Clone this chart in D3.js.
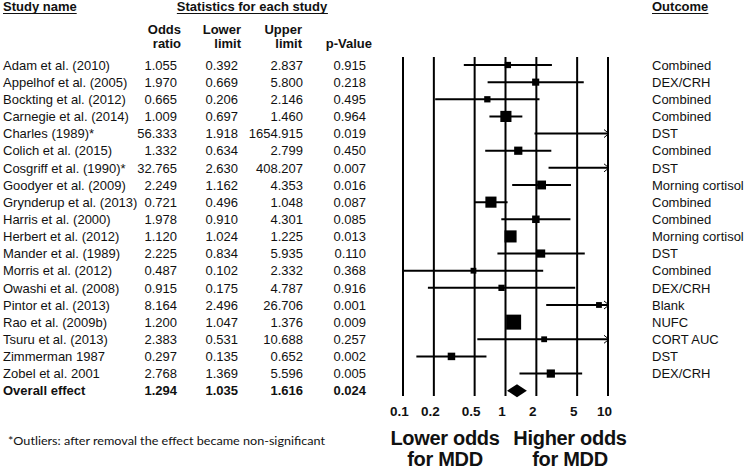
<!DOCTYPE html>
<html>
<head>
<meta charset="utf-8">
<script src="https://cdn.jsdelivr.net/npm/d3@7"></script>
<style>
  body { margin: 0; background: #fff; }
  svg text { font-family: "Liberation Sans", Arial, sans-serif; fill: #111; }
</style>
</head>
<body>
<div id="chart"></div>
<script>

// data
var studies = ["Adam et al. (2010)", "Appelhof et al. (2005)", "Bockting et al. (2012)", "Carnegie et al. (2014)",
    "Charles (1989)*", "Colich et al. (2015)", "Cosgriff et al. (1990)*", "Goodyer et al. (2009)",
    "Grynderup et al. (2013)", "Harris et al. (2000)", "Herbert et al. (2012)", "Mander et al. (1989)",
    "Morris et al. (2012)", "Owashi et al. (2008)", "Pintor et al. (2013)", "Rao et al. (2009b)",
    "Tsuru et al. (2013)", "Zimmerman 1987", "Zobel et al. 2001"];
var oddsRatio = [1.055, 1.970, 0.665, 1.009, 56.333, 1.332, 32.765, 2.249, 0.721, 1.978, 1.120, 2.225, 0.487, 0.915, 8.164, 1.200, 2.383, 0.297, 2.768];
var lowerLimit = [0.392, 0.669, 0.206, 0.697, 1.918, 0.634, 2.630, 1.162, 0.496, 0.910, 1.024, 0.834, 0.102, 0.175, 2.496, 1.047, 0.531, 0.135, 1.369];
var upperLimit = [2.837, 5.800, 2.146, 1.460, 1654.915, 2.799, 408.207, 4.353, 1.048, 4.301, 1.225, 5.935, 2.332, 4.787, 26.706, 1.376, 10.688, 0.652, 5.596];
var pValue = [0.915, 0.218, 0.495, 0.964, 0.019, 0.450, 0.007, 0.016, 0.087, 0.085, 0.013, 0.110, 0.368, 0.916, 0.001, 0.009, 0.257, 0.002, 0.005];
var outcome = ["Combined", "DEX/CRH", "Combined", "Combined", "DST", "Combined", "DST", "Morning cortisol",
    "Combined", "Combined", "Morning cortisol", "DST", "Combined", "DEX/CRH", "Blank", "NUFC", "CORT AUC", "DST", "DEX/CRH"];
// relative weights
var weight = [3.5, 4.5, 3.5, 11, 0.6, 6, 0.8, 7, 11, 5, 13, 6, 3, 3.5, 3, 20, 3, 5, 6];

var overall = {name: "Overall effect", or: 1.294, lo: 1.035, hi: 1.616, p: 0.024};
var tickValues = [0.1, 0.2, 0.5, 1, 2, 5, 10];

var rows = studies.map(function (s, i) {
    return {name: s, or: oddsRatio[i], lo: lowerLimit[i], hi: upperLimit[i], p: pValue[i], outcome: outcome[i], w: weight[i]};
});

const width = 749, height = 470;

const svg = d3.select("#chart")
    .append("svg")
    .attr("width", width)
    .attr("height", height);

var xScale = d3.scaleLog()
    .domain([0.1, 10])
    .range([403, 608]);

var yScale = d3.scalePoint()
    .domain(studies.concat([overall.name]))
    .range([65, 390.7]);

var sizeScale = d3.scaleSqrt()
    .domain([0, 20])
    .range([0, 15]);

var fmt = d3.format(".3f");

// columns: [x, anchor]
var cols = {name: 3, or: 177, lo: 238, hi: 303, p: 366, outcome: 652};

// headers
function underlined(x, y, txt, anchor) {
    var t = svg.append("text")
        .attr("x", x).attr("y", y)
        .attr("text-anchor", anchor || "start")
        .style("font-size", "13px")
        .style("font-weight", "bold")
        .text(txt);
    var bb = t.node().getBBox();
    svg.append("line")
        .attr("x1", bb.x).attr("x2", bb.x + bb.width)
        .attr("y1", y + 2.5).attr("y2", y + 2.5)
        .style("stroke", "#111").style("stroke-width", 1.2);
}
underlined(3, 11, "Study name");
underlined(252, 11, "Statistics for each study", "middle");
underlined(652, 11, "Outcome");

var subHeads = [
    {x: 181, l1: "Odds", l2: "ratio"},
    {x: 241, l1: "Lower", l2: "limit"},
    {x: 302, l1: "Upper", l2: "limit"},
    {x: 372, l1: "", l2: "p-Value"}
];
subHeads.forEach(function (h) {
    svg.append("text").attr("x", h.x).attr("y", 34).attr("text-anchor", "end")
        .style("font-size", "13px").style("font-weight", "bold").text(h.l1);
    svg.append("text").attr("x", h.x).attr("y", 48).attr("text-anchor", "end")
        .style("font-size", "13px").style("font-weight", "bold").text(h.l2);
});

// table rows
var allRows = rows.concat([overall]);
var tr = svg.selectAll("g.row")
    .data(allRows)
    .enter()
    .append("g")
    .attr("class", "row")
    .attr("transform", function (d) { return "translate(0," + yScale(d.name) + ")"; })
    .style("font-size", "13px")
    .style("font-weight", function (d) { return d === overall ? "bold" : "normal"; });

tr.append("text").attr("x", cols.name).attr("dy", "0.36em").text(function (d) { return d.name; });
tr.append("text").attr("x", cols.or).attr("dy", "0.36em").attr("text-anchor", "end").text(function (d) { return fmt(d.or); });
tr.append("text").attr("x", cols.lo).attr("dy", "0.36em").attr("text-anchor", "end").text(function (d) { return fmt(d.lo); });
tr.append("text").attr("x", cols.hi).attr("dy", "0.36em").attr("text-anchor", "end").text(function (d) { return fmt(d.hi); });
tr.append("text").attr("x", cols.p).attr("dy", "0.36em").attr("text-anchor", "end").text(function (d) { return fmt(d.p); });
tr.filter(function (d) { return d !== overall; })
    .append("text").attr("x", cols.outcome).attr("dy", "0.36em").text(function (d) { return d.outcome; });

// vertical reference lines
svg.selectAll("line.vline")
    .data(tickValues)
    .enter()
    .append("line")
    .attr("class", "vline")
    .attr("x1", function (d) { return xScale(d); })
    .attr("x2", function (d) { return xScale(d); })
    .attr("y1", 57)
    .attr("y2", 396)
    .style("stroke", "#000")
    .style("stroke-width", 2);

function clampX(v) {
    return xScale(Math.max(0.1, Math.min(10, v)));
}

// confidence intervals
svg.selectAll("line.ci")
    .data(rows)
    .enter()
    .append("line")
    .attr("class", "ci")
    .attr("x1", function (d) { return clampX(d.lo); })
    .attr("x2", function (d) { return clampX(d.hi); })
    .attr("y1", function (d) { return yScale(d.name); })
    .attr("y2", function (d) { return yScale(d.name); })
    .style("stroke", "#000")
    .style("stroke-width", 2);

// arrows for intervals going off the scale
svg.selectAll("path.arrow")
    .data(rows.filter(function (d) { return d.hi > 10; }))
    .enter()
    .append("path")
    .attr("class", "arrow")
    .attr("d", function (d) {
        var x = xScale(10), y = yScale(d.name);
        return "M" + (x - 4) + "," + (y - 4) + "L" + (x + 1) + "," + y + "L" + (x - 4) + "," + (y + 4);
    })
    .style("fill", "none")
    .style("stroke", "#000")
    .style("stroke-width", 1);

// boxes
svg.selectAll("rect.box")
    .data(rows.filter(function (d) { return d.or <= 10; }))
    .enter()
    .append("rect")
    .attr("class", "box")
    .attr("x", function (d) { return xScale(d.or) - sizeScale(d.w) / 2; })
    .attr("y", function (d) { return yScale(d.name) - sizeScale(d.w) / 2; })
    .attr("width", function (d) { return sizeScale(d.w); })
    .attr("height", function (d) { return sizeScale(d.w); })
    .style("fill", "#000");

// overall diamond
var oy = yScale(overall.name);
svg.append("path")
    .attr("d", "M" + xScale(overall.lo) + "," + oy +
        "L" + xScale(overall.or) + "," + (oy - 6.5) +
        "L" + xScale(overall.hi) + "," + oy +
        "L" + xScale(overall.or) + "," + (oy + 6.5) + "Z")
    .style("fill", "#000");

// x axis labels
var xAxis = svg.append("g")
    .attr("class", "x-axis")
    .attr("transform", "translate(0,403)")
    .call(d3.axisBottom(xScale)
        .tickValues(tickValues)
        .tickSize(0)
        .tickFormat(function (d) { return String(d); }));
xAxis.select(".domain").remove();
xAxis.selectAll("text")
    .attr("dx", "-4")
    .style("font-family", "'Liberation Sans', Arial, sans-serif")
    .style("font-size", "13.5px")
    .style("font-weight", "bold")
    .style("fill", "#111");

// direction labels
[{x: 445, l1: "Lower odds"}, {x: 570, l1: "Higher odds"}].forEach(function (d) {
    svg.append("text").attr("x", d.x).attr("y", 445).attr("text-anchor", "middle")
        .style("font-size", "20px").style("font-weight", "bold").style("letter-spacing", "-0.3px").text(d.l1);
    svg.append("text").attr("x", d.x).attr("y", 466).attr("text-anchor", "middle")
        .style("font-size", "20px").style("font-weight", "bold").style("letter-spacing", "-0.3px").text("for MDD");
});

// footnote
svg.append("text")
    .attr("x", 8)
    .attr("y", 445)
    .attr("textLength", 317)
    .attr("lengthAdjust", "spacingAndGlyphs")
    .style("font-family", "Lato, 'Open Sans', sans-serif")
    .style("font-size", "12px")
    .text("*Outliers: after removal the effect became non-significant");

</script>
</body>
</html>
